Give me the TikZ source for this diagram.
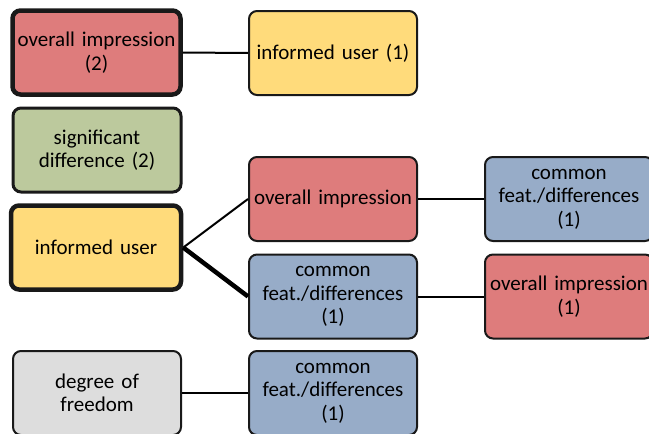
\documentclass[tikz,border=0pt]{standalone}
\usepackage{fontspec}
\setmainfont{Carlito}
\definecolor{boxred}{RGB}{222,124,124}
\definecolor{boxyellow}{RGB}{255,219,123}
\definecolor{boxgreen}{RGB}{188,201,157}
\definecolor{boxblue}{RGB}{151,172,200}
\definecolor{boxgray}{RGB}{221,221,221}
\definecolor{edge}{RGB}{25,25,25}
\tikzset{
  card/.style={draw=edge, line width=2pt, rounded corners=8pt,
    minimum width=168pt, minimum height=84pt, inner sep=0pt,
    align=center, text width=166pt,
    font=\fontsize{21}{23.5}\selectfont},
  heavy/.style={line width=4.5pt},
  medium/.style={line width=3pt},
  link/.style={draw=black, line width=2pt},
  heavylink/.style={draw=black, line width=4.5pt},
}
\begin{document}
\begin{tikzpicture}[x=1pt, y=-1pt]
  \useasboundingbox (0,0) rectangle (649,434);
  \clip (0,0) rectangle (649,434);

  % first row
  \node[card, heavy, fill=boxred] (oi2) at (96.5,52.5) {overall impression\\(2)};
  \node[card, fill=boxyellow] (iu1) at (333,53) {informed user (1)};

  % second row
  \node[card, medium, fill=boxgreen] (sd2) at (97,150) {significant\\difference (2)};

  % informed user branch
  \node[card, heavy, fill=boxyellow, minimum width=170pt] (iu) at (96,247.5) {informed user};
  \node[card, fill=boxred] (oiA) at (333,199) {overall impression};
  \node[card, fill=boxblue] (cfA) at (569,199) {common\\feat./differences\\(1)};
  \node[card, fill=boxblue] (cfB) at (333,296.5) {common\\feat./differences\\(1)};
  \node[card, fill=boxred] (oiB) at (569,296.5) {overall impression\\(1)};

  % last row
  \node[card, fill=boxgray] (dof) at (97,393) {degree of\\freedom};
  \node[card, fill=boxblue] (cfC) at (333,393) {common\\feat./differences\\(1)};

  % connectors
  \draw[link] (oi2.east) -- (iu1.west);
  \draw[link] (iu.east) -- (oiA.west);
  \draw[heavylink] (iu.east) -- (cfB.west);
  \draw[link] (oiA.east) -- (cfA.west);
  \draw[link] (cfB.east) -- (oiB.west);
  \draw[link] (dof.east) -- (cfC.west);
\end{tikzpicture}
\end{document}
